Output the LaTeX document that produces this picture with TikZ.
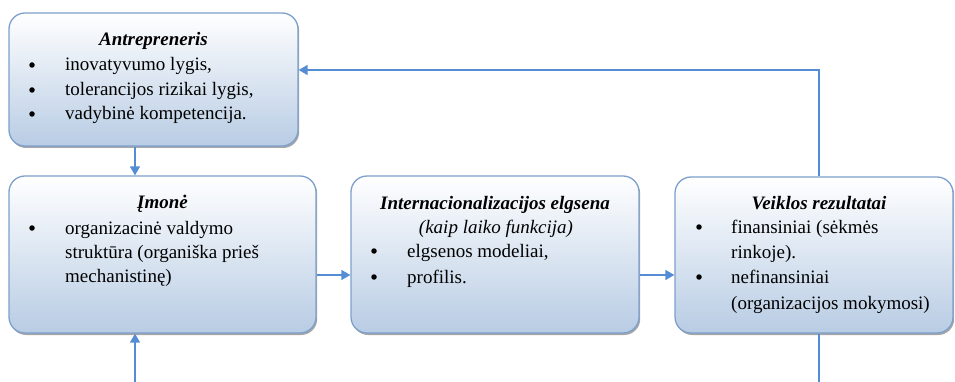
\documentclass[tikz,border=0pt]{standalone}
\usepackage{fontspec}
\setmainfont{Liberation Serif}
\usetikzlibrary{shadows,arrows.meta}
\definecolor{boxborder}{RGB}{125,160,205}
\definecolor{boxbottom}{RGB}{184,204,228}
\definecolor{arrowblue}{RGB}{84,141,212}
\tikzset{
 box/.style={draw=boxborder, line width=1.3pt, rounded corners=16pt, top color=white, bottom color=boxbottom, inner sep=0pt,
   drop shadow={shadow xshift=1.2pt, shadow yshift=-2pt, fill=black!50, opacity=0.7}},
 txt/.style={anchor=base west, inner sep=0pt, font=\fontsize{19}{23}\selectfont},
 ttl/.style={anchor=base, inner sep=0pt, font=\fontsize{19}{23}\selectfont\bfseries\itshape},
 sub/.style={anchor=base, inner sep=0pt, font=\fontsize{19}{23}\selectfont\itshape},
 bul/.style={circle, fill=black, inner sep=0pt, minimum size=5.5pt},
 conn/.style={draw=arrowblue, line width=1.5pt},
 arr/.style={conn, -{Triangle[length=9pt,width=10pt]}},
}
\begin{document}
\begin{tikzpicture}[x=1pt,y=-1pt]
\useasboundingbox (0,0) rectangle (955,382);
% boxes
\node[box, minimum width=289pt, minimum height=133pt] (b1) at (153.5,79.5) {};
\node[box, minimum width=307pt, minimum height=157pt] (b2) at (162.5,254.5) {};
\node[box, minimum width=288pt, minimum height=157pt] (b3) at (495,254.5) {};
\node[box, minimum width=278pt, minimum height=156pt] (b4) at (814,255) {};
% box 1 text
\node[ttl] (t1) at (153.5,46) {Antrepreneris};
\node[bul] (b1d1) at (32,65) {};
\node[txt] (b1l1) at (65,71) {inovatyvumo lygis,};
\node[bul] (b1d2) at (32,90) {};
\node[txt] (b1l2) at (65,96) {tolerancijos rizikai lygis,};
\node[bul] (b1d3) at (32,114) {};
\node[txt] (b1l3) at (65,120) {vadybinė kompetencija.};
% box 2 text
\node[ttl] (t2) at (162.5,208) {Įmonė};
\node[bul] (b2d1) at (32,228) {};
\node[txt] (b2l1) at (65,234) {organizacinė valdymo};
\node[txt] (b2l2) at (65,258) {struktūra (organiška prieš};
\node[txt] (b2l3) at (65,282) {mechanistinę)};
% box 3 text
\node[ttl] (t3) at (495,209) {Internacionalizacijos elgsena};
\node[sub] (t3b) at (496,233) {(kaip laiko funkcija)};
\node[bul] (b3d1) at (374,251) {};
\node[txt] (b3l1) at (407,257) {elgsenos modeliai,};
\node[bul] (b3d2) at (374,277) {};
\node[txt] (b3l2) at (407,283) {profilis.};
% box 4 text
\node[ttl] (t4) at (819,209) {Veiklos rezultatai};
\node[bul] (b4d1) at (699,227) {};
\node[txt] (b4l1) at (731,233) {finansiniai (sėkmės};
\node[txt] (b4l2) at (731,258) {rinkoje).};
\node[bul] (b4d2) at (699,277) {};
\node[txt] (b4l3) at (731,283) {nefinansiniai};
\node[txt] (b4l4) at (731,309) {(organizacijos mokymosi)};
% helper coordinates
\coordinate (cx) at (135,0);
\coordinate (fx) at (819,0);
\coordinate (fy) at (0,70);
\coordinate (ry) at (0,275);
\coordinate (inE) at (135,382);
\coordinate (outE) at (819,382);
% connectors
\draw[arr] (b1.south -| cx) -- (b2.north -| cx);
\draw[arr] (inE) -- (b2.south -| inE);
\draw[arr] (b2.east |- ry) -- (b3.west |- ry);
\draw[arr] (b3.east |- ry) -- (b4.west |- ry);
\draw[arr] (b4.north -| fx) |- (b1.east |- fy);
\draw[conn] (b4.south -| fx) -- (outE);
\end{tikzpicture}
\end{document}
